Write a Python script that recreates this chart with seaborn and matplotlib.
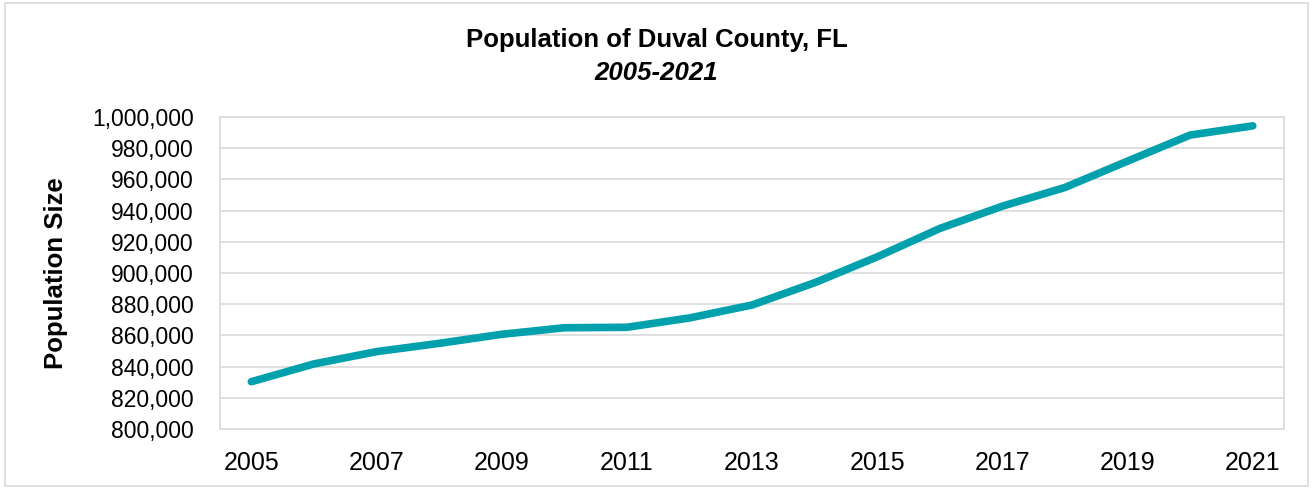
import matplotlib
matplotlib.use("Agg")
import matplotlib.pyplot as plt
import matplotlib.ticker as mticker
from matplotlib.patches import Rectangle
import seaborn as sns
import pandas as pd

# Data
years = list(range(2005, 2022))
population = [830300, 841700, 849600, 854900, 860700, 864900, 865200, 871200,
              879500, 893800, 910400, 928600, 942900, 954900, 971800, 988500,
              994400]
tick_years = [2005, 2007, 2009, 2011, 2013, 2015, 2017, 2019, 2021]

df = pd.DataFrame({"Year": years, "Population": population})

sns.set_theme(style="white")
plt.rcParams['font.family'] = ['Liberation Sans', 'DejaVu Sans']
plt.rcParams['text.color'] = 'black'

fig = plt.figure(figsize=(13.13, 4.88), dpi=100)
ax = fig.add_axes([0.1676, 0.121, 0.978 - 0.1676, 0.760 - 0.121])

sns.lineplot(data=df, x="Year", y="Population", color="#00A0AC",
             linewidth=5.5, solid_capstyle="round", ax=ax)

ax.set_xlim(2004.5, 2021.5)
ax.set_ylim(800000, 1000000)
ax.set_xticks(tick_years)
ax.set_yticks(range(800000, 1000001, 20000))
ax.yaxis.set_major_formatter(mticker.FuncFormatter(lambda v, p: f"{int(v):,}"))
ax.tick_params(axis="y", labelsize=16.5, colors="black", length=0, pad=19)
ax.tick_params(axis="x", labelsize=18, colors="black", length=0, pad=16)

ax.grid(axis="y", color="#D9D9D9", linewidth=1.2)
ax.set_axisbelow(True)
for side in ["left", "right", "bottom", "top"]:
    ax.spines[side].set_color("#D9D9D9")
    ax.spines[side].set_linewidth(1.2)

ax.set_xlabel("")
ax.set_ylabel("Population Size", fontsize=18.5, fontweight="bold", color="black")
ax.yaxis.set_label_coords(-0.1425, 0.5)

fig.text(0.5, 0.918, "Population of Duval County, FL", ha="center", va="center",
         fontsize=18.5, fontweight="bold", color="black")
fig.text(0.5, 0.851, "2005-2021", ha="center", va="center",
         fontsize=18.5, fontweight="bold", style="italic", color="black")

# Light outer chart border
fig.patches.append(Rectangle((0.004, 0.004), 0.992, 0.99, transform=fig.transFigure,
                             fill=False, edgecolor="#D9D9D9", linewidth=1.2))

fig.savefig("out.png", dpi=100)
